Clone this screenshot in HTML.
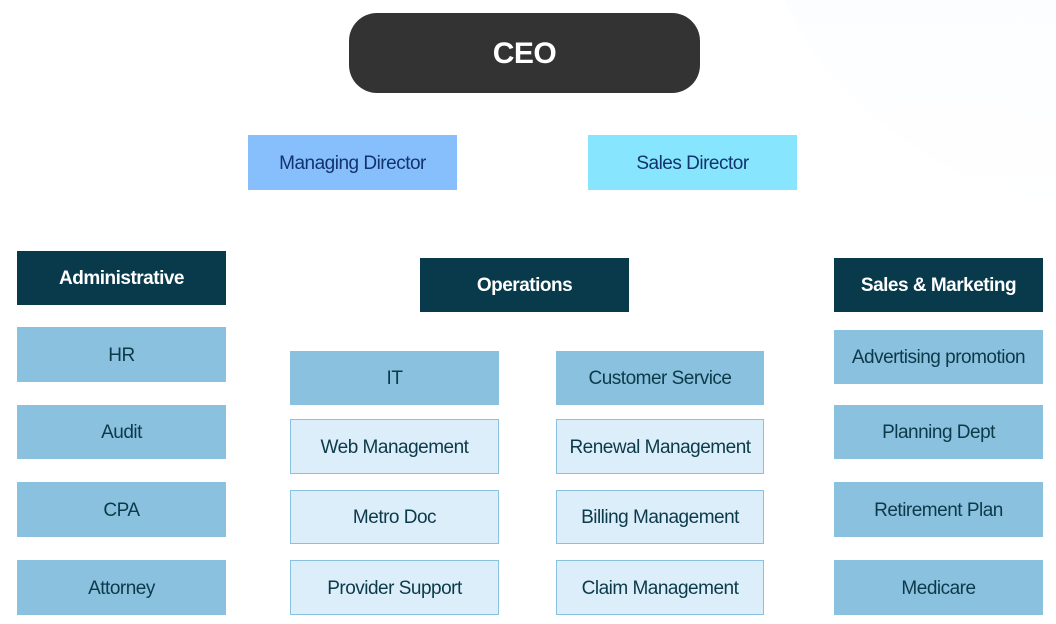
<!DOCTYPE html>
<html><head><style>
body{margin:0;width:1056px;height:624px;background:#fff;position:relative;overflow:hidden;font-family:"Liberation Sans",sans-serif}
.b{position:absolute;display:flex;align-items:center;justify-content:center;box-sizing:border-box;font-size:19px;color:#0d3a4a;letter-spacing:-0.5px;white-space:nowrap;padding-top:2px}
.d{background:#083a4b;color:#fff;font-weight:bold;font-size:19px}
.m{background:#89c1df}
.l{background:#dbeef9;border:1px solid #89c1de}
.bg{position:absolute;left:765px;top:-420px;width:900px;height:650px;border-radius:50%;background:linear-gradient(#f6faff,#fff)}
</style></head><body>
<div class="bg"></div>
<div class="b" style="left:349px;top:13px;width:351px;height:80px;border-radius:28px;background:#333;color:#fff;font-size:30px;font-weight:bold">CEO</div>
<div class="b" style="left:248px;top:135px;width:209px;height:55px;background:#87bffd;color:#12336e">Managing Director</div>
<div class="b" style="left:588px;top:135px;width:209px;height:55px;background:#87e6fe;color:#12336e">Sales Director</div>

<div class="b d" style="left:17px;top:251px;width:209px;height:54px">Administrative</div>
<div class="b m" style="left:17px;top:327px;width:209px;height:55px">HR</div>
<div class="b m" style="left:17px;top:405px;width:209px;height:54px">Audit</div>
<div class="b m" style="left:17px;top:482px;width:209px;height:55px">CPA</div>
<div class="b m" style="left:17px;top:560px;width:209px;height:55px">Attorney</div>

<div class="b d" style="left:420px;top:258px;width:209px;height:54px">Operations</div>
<div class="b m" style="left:290px;top:351px;width:209px;height:54px">IT</div>
<div class="b l" style="left:290px;top:419px;width:209px;height:55px">Web Management</div>
<div class="b l" style="left:290px;top:490px;width:209px;height:54px">Metro Doc</div>
<div class="b l" style="left:290px;top:560px;width:209px;height:55px">Provider Support</div>

<div class="b m" style="left:556px;top:351px;width:208px;height:54px">Customer Service</div>
<div class="b l" style="left:556px;top:419px;width:208px;height:55px">Renewal Management</div>
<div class="b l" style="left:556px;top:490px;width:208px;height:54px">Billing Management</div>
<div class="b l" style="left:556px;top:560px;width:208px;height:55px">Claim Management</div>

<div class="b d" style="left:834px;top:258px;width:209px;height:54px">Sales &amp; Marketing</div>
<div class="b m" style="left:834px;top:330px;width:209px;height:54px">Advertising promotion</div>
<div class="b m" style="left:834px;top:405px;width:209px;height:54px">Planning Dept</div>
<div class="b m" style="left:834px;top:482px;width:209px;height:55px">Retirement Plan</div>
<div class="b m" style="left:834px;top:560px;width:209px;height:55px">Medicare</div>
</body></html>
